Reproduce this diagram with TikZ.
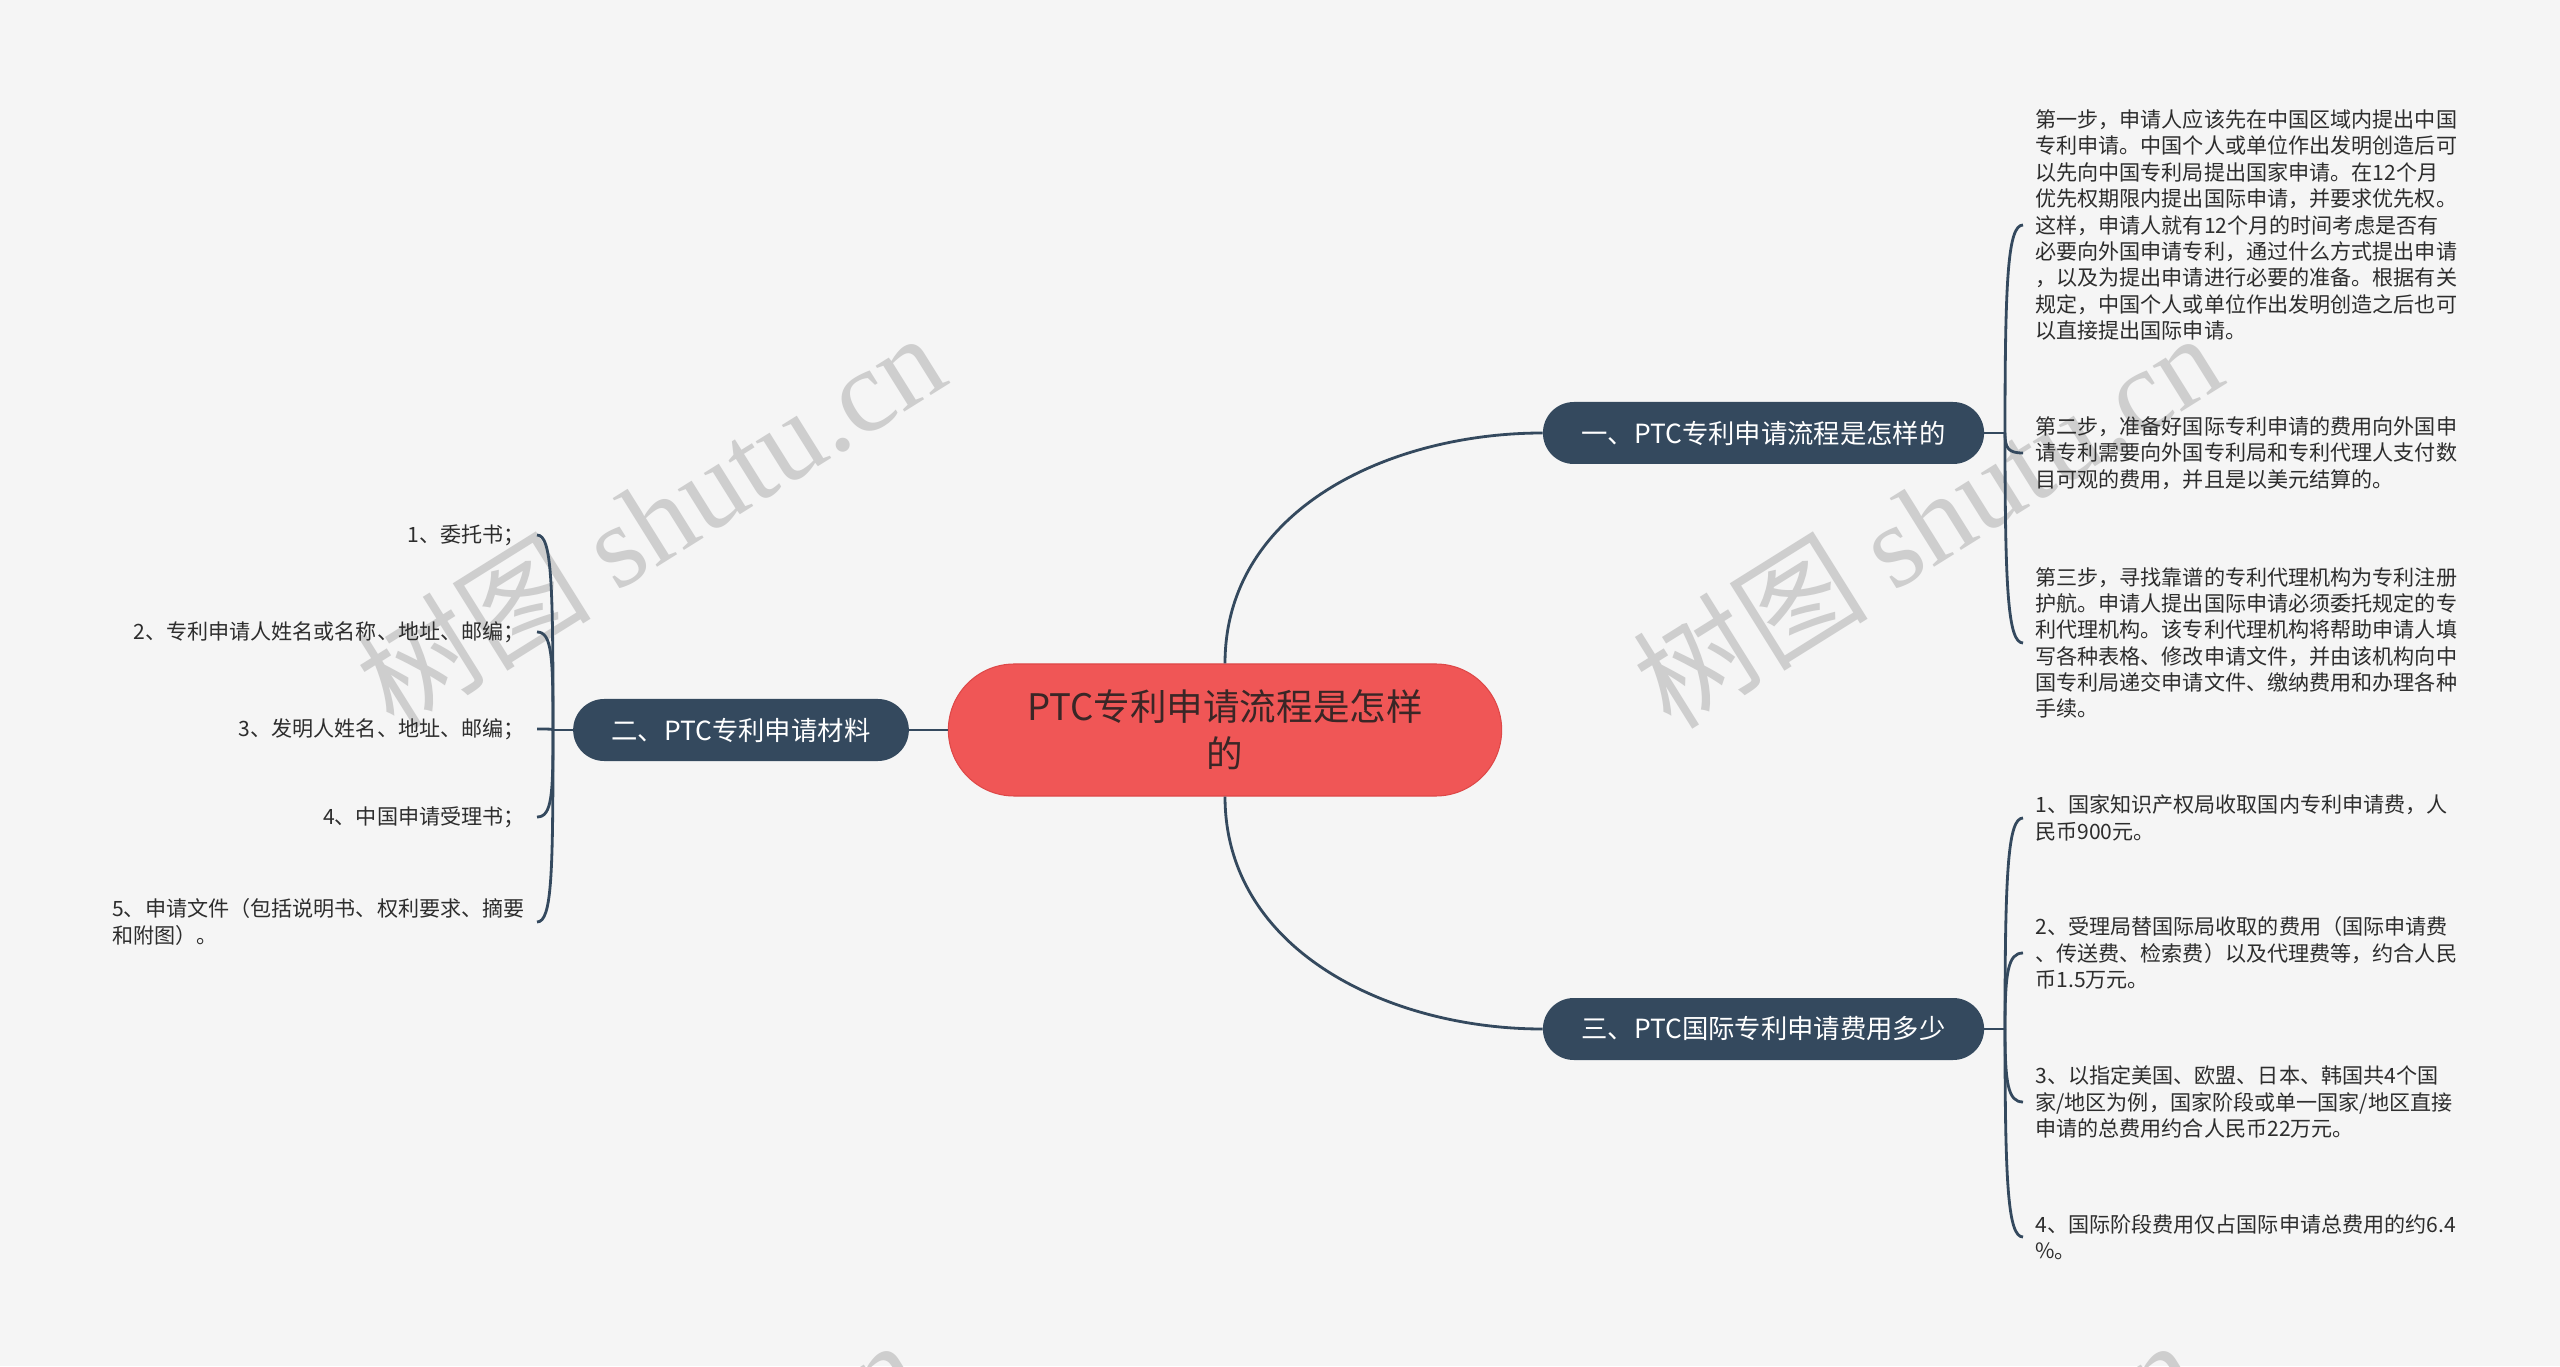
\documentclass[tikz,border=0pt]{standalone}
\usepackage{fontspec}
\setmainfont{Noto Sans CJK SC}
\newfontfamily\marklatin{Liberation Serif}
\usetikzlibrary{shapes.misc, calc}

\definecolor{pagebg}{RGB}{245,245,245}
\definecolor{slate}{RGB}{52,73,94}
\definecolor{rootred}{RGB}{240,86,86}
\definecolor{rootedge}{RGB}{222,72,72}
\definecolor{roottext}{RGB}{58,38,38}
\definecolor{leaftext}{RGB}{45,45,45}
\definecolor{markgrey}{RGB}{206,206,206}

\tikzset{
  rootnode/.style={rounded rectangle, fill=rootred, draw=rootedge, line width=0.6pt,
    text=roottext, align=center, minimum width=11.3cm, minimum height=2.64cm,
    font=\fontsize{20.8}{26.7}\selectfont},
  topic/.style={rounded rectangle, fill=slate, text=white, inner xsep=0.72cm,
    minimum height=1.24cm, font=\fontsize{15}{18}\selectfont},
  leaf/.style={text=leaftext, inner xsep=0.24cm, inner ysep=0pt, align=left,
    font=\fontsize{12}{15}\selectfont},
  link/.style={draw=slate, line width=1.6pt},
  watermark/.style={text=markgrey, rotate=32, inner sep=0pt,
    font=\fontsize{67}{67}\selectfont}
}

\begin{document}
\begin{tikzpicture}

\useasboundingbox (0,0) rectangle (51.2,27.32);
\fill[pagebg] (0,0) rectangle (51.2,27.32);

% Watermarks
\begin{scope}
\clip (0,0) rectangle (51.2,27.32);
\foreach \wx/\wy in {13.0/16.94, 38.54/16.94, 12.5/-3.2, 38.04/-3.2}
  \node[watermark] at (\wx,\wy) {树图 {\marklatin shutu.cn}};
\end{scope}

% Centre and topics
\node[rootnode] (root) at (24.5,12.72) {PTC专利申请流程是怎样\\的};
\node[topic] (t1) at (35.27,18.66) {一、PTC专利申请流程是怎样的};
\node[topic] (t2) at (14.82,12.72) {二、PTC专利申请材料};
\node[topic] (t3) at (35.27,6.74) {三、PTC国际专利申请费用多少};

% Steps (topic 1)
\node[leaf, anchor=west] (s1) at (40.46,22.82) {第一步，申请人应该先在中国区域内提出中国\\专利申请。中国个人或单位作出发明创造后可\\以先向中国专利局提出国家申请。在12个月\\优先权期限内提出国际申请，并要求优先权。\\这样，申请人就有12个月的时间考虑是否有\\必要向外国申请专利，通过什么方式提出申请\\，以及为提出申请进行必要的准备。根据有关\\规定，中国个人或单位作出发明创造之后也可\\以直接提出国际申请。};
\node[leaf, anchor=west] (s2) at (40.46,18.26) {第二步，准备好国际专利申请的费用向外国申\\请专利需要向外国专利局和专利代理人支付数\\目可观的费用，并且是以美元结算的。};
\node[leaf, anchor=west] (s3) at (40.46,14.46) {第三步，寻找靠谱的专利代理机构为专利注册\\护航。申请人提出国际申请必须委托规定的专\\利代理机构。该专利代理机构将帮助申请人填\\写各种表格、修改申请文件，并由该机构向中\\国专利局递交申请文件、缴纳费用和办理各种\\手续。};

% Materials (topic 2)
\node[leaf, anchor=east] (m1) at (10.74,16.62) {1、委托书；};
\node[leaf, anchor=east] (m2) at (10.74,14.68) {2、专利申请人姓名或名称、地址、邮编；};
\node[leaf, anchor=east] (m3) at (10.74,12.74) {3、发明人姓名、地址、邮编；};
\node[leaf, anchor=east] (m4) at (10.74,10.98) {4、中国申请受理书；};
\node[leaf, anchor=east] (m5) at (10.74,8.88) {5、申请文件（包括说明书、权利要求、摘要\\和附图）。};

% Fees (topic 3)
\node[leaf, anchor=west] (f1) at (40.46,10.96) {1、国家知识产权局收取国内专利申请费，人\\民币900元。};
\node[leaf, anchor=west] (f2) at (40.46,8.26) {2、受理局替国际局收取的费用（国际申请费\\、传送费、检索费）以及代理费等，约合人民\\币1.5万元。};
\node[leaf, anchor=west] (f3) at (40.46,5.28) {3、以指定美国、欧盟、日本、韩国共4个国\\家/地区为例，国家阶段或单一国家/地区直接\\申请的总费用约合人民币22万元。};
\node[leaf, anchor=west] (f4) at (40.46,2.58) {4、国际阶段费用仅占国际申请总费用的约6.4\\\%。};

% Main branches
\draw[link] (root.north) to[out=90, in=180] (t1.west);
\draw[link] (root.south) to[out=-90, in=180] (t3.west);
\draw[link] (root.west) -- (t2.east);

% Braces
\coordinate (k1) at (40.10,18.66);
\coordinate (k2) at (11.06,12.72);
\coordinate (k3) at (40.10,6.74);
\draw[link] (t1.east) -- (k1);
\draw[link] (t2.west) -- (k2);
\draw[link] (t3.east) -- (k3);
\foreach \leafname in {s1,s2,s3}
  \draw[link] (k1) .. controls ($(k1)!0.75!(k1 |- \leafname.west)$) and ($(\leafname.west)+(-0.3,0)$) .. (\leafname.west);
\foreach \leafname in {f1,f2,f3,f4}
  \draw[link] (k3) .. controls ($(k3)!0.75!(k3 |- \leafname.west)$) and ($(\leafname.west)+(-0.3,0)$) .. (\leafname.west);
\foreach \leafname in {m1,m2,m3,m4,m5}
  \draw[link] (k2) .. controls ($(k2)!0.75!(k2 |- \leafname.east)$) and ($(\leafname.east)+(0.3,0)$) .. (\leafname.east);

\end{tikzpicture}
\end{document}
